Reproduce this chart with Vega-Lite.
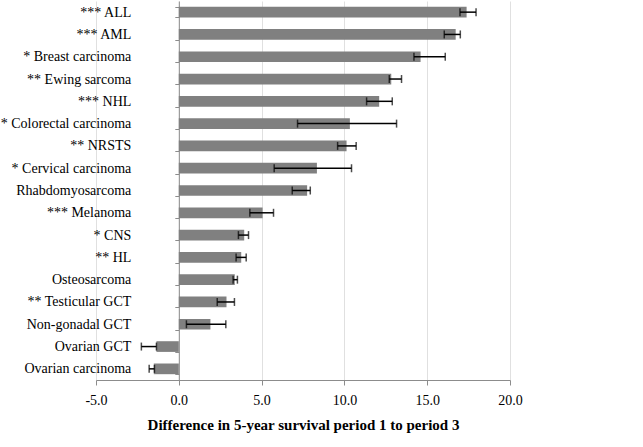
{
  "$schema": "https://vega.github.io/schema/vega-lite/v6.json",
  "width": 414,
  "height": 379,
  "autosize": {"type": "none"},
  "padding": {"left": 96, "top": 1, "right": 133, "bottom": 67},
  "background": "white",
  "config": {
    "view": {"stroke": null},
    "font": "Liberation Serif"
  },
  "data": {
    "values": [
      {"label": "*** ALL", "value": 17.38, "lo": 16.98, "hi": 17.95},
      {"label": "*** AML", "value": 16.72, "lo": 16.03, "hi": 17.0},
      {"label": "* Breast carcinoma", "value": 14.6, "lo": 14.2, "hi": 16.09},
      {"label": "** Ewing sarcoma", "value": 12.83, "lo": 12.71, "hi": 13.45},
      {"label": "*** NHL", "value": 12.1, "lo": 11.34, "hi": 12.89},
      {"label": "* Colorectal carcinoma", "value": 10.33, "lo": 7.17, "hi": 13.15},
      {"label": "** NRSTS", "value": 10.13, "lo": 9.59, "hi": 10.71},
      {"label": "* Cervical carcinoma", "value": 8.34, "lo": 5.76, "hi": 10.43},
      {"label": "Rhabdomyosarcoma", "value": 7.75, "lo": 6.85, "hi": 7.94},
      {"label": "*** Melanoma", "value": 5.06, "lo": 4.29, "hi": 5.72},
      {"label": "* CNS", "value": 3.95, "lo": 3.6, "hi": 4.21},
      {"label": "** HL", "value": 3.77, "lo": 3.46, "hi": 4.07},
      {"label": "Osteosarcoma", "value": 3.38, "lo": 3.28, "hi": 3.54},
      {"label": "** Testicular GCT", "value": 2.88, "lo": 2.32, "hi": 3.36},
      {"label": "Non-gonadal GCT", "value": 1.91, "lo": 0.46, "hi": 2.84},
      {"label": "Ovarian GCT", "value": -1.35, "lo": -2.26, "hi": -1.35},
      {"label": "Ovarian carcinoma", "value": -1.51, "lo": -1.79, "hi": -1.47}
    ]
  },
  "encoding": {
    "y": {
      "field": "label",
      "type": "nominal",
      "sort": null,
      "scale": {"paddingInner": 0.52, "paddingOuter": 0.26},
      "axis": {
        "title": null,
        "orient": "left",
        "offset": -82.8,
        "domainColor": "#8c8c8c",
        "tickColor": "#8c8c8c",
        "tickBand": "extent",
        "tickSize": 4,
        "labelPadding": 44,
        "labelFontSize": 14,
        "labelColor": "#000000",
        "grid": false
      }
    }
  },
  "layer": [
    {
      "mark": {"type": "bar", "color": "#808080"},
      "encoding": {
        "x": {
          "field": "value",
          "type": "quantitative",
          "scale": {"domain": [-5, 20], "nice": false},
          "axis": {
            "values": [-5, 0, 5, 10, 15, 20],
            "labelExpr": "datum.value < 0 ? '-' + format(-datum.value, '.1f') : format(datum.value, '.1f')",
            "title": "Difference in 5-year survival period 1 to period 3",
            "titleFontSize": 15,
            "titleFontWeight": "bold",
            "titleColor": "#000000",
            "titlePadding": 10,
            "labelFontSize": 14,
            "labelColor": "#000000",
            "labelPadding": 8,
            "labelFlush": false,
            "domainColor": "#8c8c8c",
            "tickColor": "#8c8c8c",
            "tickSize": 5,
            "grid": true,
            "gridColor": "#e0e0e0"
          }
        },
        "x2": {"datum": 0}
      }
    },
    {
      "mark": {"type": "rule", "color": "#000000", "strokeWidth": 1.5},
      "encoding": {
        "x": {"field": "lo", "type": "quantitative"},
        "x2": {"field": "hi"}
      }
    },
    {
      "mark": {"type": "tick", "color": "#000000", "size": 8, "thickness": 1.5},
      "encoding": {
        "x": {"field": "lo", "type": "quantitative"}
      }
    },
    {
      "mark": {"type": "tick", "color": "#000000", "size": 8, "thickness": 1.5},
      "encoding": {
        "x": {"field": "hi", "type": "quantitative"}
      }
    }
  ]
}
